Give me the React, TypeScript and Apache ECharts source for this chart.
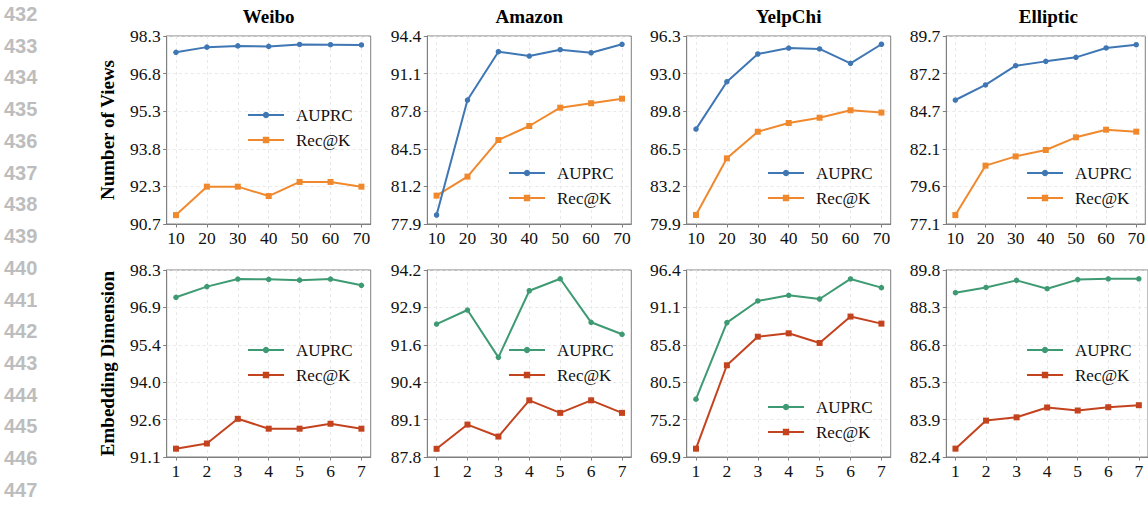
import React, { useEffect, useRef } from "react";
import * as echarts from "echarts";

// ---------- data ----------
const viewsCategories = [10, 20, 30, 40, 50, 60, 70];
const dimCategories = [1, 2, 3, 4, 5, 6, 7];

const datasetNames = ["Weibo", "Amazon", "YelpChi", "Elliptic"];

const weiboViewsAUPRC = [97.64, 97.85, 97.9, 97.88, 97.96, 97.95, 97.94];
const weiboViewsRec = [91.06, 92.21, 92.21, 91.83, 92.4, 92.4, 92.21];
const amazonViewsAUPRC = [78.69, 88.78, 93.02, 92.64, 93.2, 92.93, 93.67];
const amazonViewsRec = [80.39, 82.06, 85.27, 86.5, 88.11, 88.5, 88.9];
const yelpViewsAUPRC = [88.18, 92.31, 94.73, 95.25, 95.17, 93.92, 95.58];
const yelpViewsRec = [80.69, 85.63, 87.95, 88.71, 89.17, 89.82, 89.62];
const ellipticViewsAUPRC = [85.41, 86.42, 87.71, 88.0, 88.27, 88.9, 89.12];
const ellipticViewsRec = [77.7, 81.01, 81.63, 82.06, 82.91, 83.42, 83.29];

const weiboDimAUPRC = [97.25, 97.66, 97.95, 97.94, 97.91, 97.95, 97.71];
const weiboDimRec = [91.42, 91.62, 92.57, 92.19, 92.19, 92.38, 92.19];
const amazonDimAUPRC = [92.35, 92.83, 91.21, 93.49, 93.9, 92.41, 92.0];
const amazonDimRec = [88.08, 88.91, 88.5, 89.74, 89.31, 89.74, 89.31];
const yelpDimAUPRC = [78.1, 88.94, 92.01, 92.81, 92.29, 95.13, 93.9];
const yelpDimRec = [71.08, 82.9, 86.95, 87.43, 86.06, 89.8, 88.8];
const ellipticDimAUPRC = [88.9, 89.11, 89.39, 89.06, 89.42, 89.45, 89.45];
const ellipticDimRec = [82.73, 83.84, 83.97, 84.36, 84.24, 84.37, 84.45];

const weiboViewsTicks = ["90.7", "92.3", "93.8", "95.3", "96.8", "98.3"];
const amazonViewsTicks = ["77.9", "81.2", "84.5", "87.8", "91.1", "94.4"];
const yelpViewsTicks = ["79.9", "83.2", "86.5", "89.8", "93.0", "96.3"];
const ellipticViewsTicks = ["77.1", "79.6", "82.1", "84.7", "87.2", "89.7"];
const weiboDimTicks = ["91.1", "92.6", "94.0", "95.4", "96.9", "98.3"];
const amazonDimTicks = ["87.8", "89.1", "90.4", "91.6", "92.9", "94.2"];
const yelpDimTicks = ["69.9", "75.2", "80.5", "85.8", "91.1", "96.4"];
const ellipticDimTicks = ["82.4", "83.9", "85.3", "86.8", "88.3", "89.8"];

const rowLabels = ["Number of Views", "Embedding Dimension"];
const lineNumbers = [432, 433, 434, 435, 436, 437, 438, 439, 440, 441, 442, 443, 444, 445, 446, 447];

// ---------- style / layout ----------
const SERIF = "'Liberation Serif', 'Times New Roman', serif";
const AXIS_GRAY = "#7f7f7f";
const GRID_GRAY = "#e3e3e3";
const colorsTop = ["#3F76B4", "#F0892E"];
const colorsBottom = ["#3E9A72", "#C4431F"];

const panelLefts = [166.7, 427.3, 686.7, 946.3];
const panelWidth = 204;
const rowTops = [36, 270];
const rowHeights = [188, 187];

// legend anchor (left of icon, centre of first row) per panel
const legendPos = [
  [[247, 115], [508, 173], [767, 173], [1026, 173]],
  [[247, 350], [508, 350], [767, 407], [1026, 350]],
];

const panels = [
  { row: 0, col: 0, a: weiboViewsAUPRC, r: weiboViewsRec, ticks: weiboViewsTicks },
  { row: 0, col: 1, a: amazonViewsAUPRC, r: amazonViewsRec, ticks: amazonViewsTicks },
  { row: 0, col: 2, a: yelpViewsAUPRC, r: yelpViewsRec, ticks: yelpViewsTicks },
  { row: 0, col: 3, a: ellipticViewsAUPRC, r: ellipticViewsRec, ticks: ellipticViewsTicks },
  { row: 1, col: 0, a: weiboDimAUPRC, r: weiboDimRec, ticks: weiboDimTicks },
  { row: 1, col: 1, a: amazonDimAUPRC, r: amazonDimRec, ticks: amazonDimTicks },
  { row: 1, col: 2, a: yelpDimAUPRC, r: yelpDimRec, ticks: yelpDimTicks },
  { row: 1, col: 3, a: ellipticDimAUPRC, r: ellipticDimRec, ticks: ellipticDimTicks },
];

function buildOption() {
  const grid: any[] = [];
  const xAxis: any[] = [];
  const yAxis: any[] = [];
  const series: any[] = [];
  const legend: any[] = [];
  const title: any[] = [];

  panels.forEach((p, i) => {
    const cats = p.row === 0 ? viewsCategories : dimCategories;
    const span = cats[cats.length - 1] - cats[0];
    const xmin = cats[0] - span * 0.05;
    const xmax = cats[cats.length - 1] + span * 0.05;
    const ymin = parseFloat(p.ticks[0]);
    const ymax = parseFloat(p.ticks[p.ticks.length - 1]);
    const n = p.ticks.length - 1;
    const yPositions = p.ticks.map((_, k) => ymin + ((ymax - ymin) * k) / n);
    const colors = p.row === 0 ? colorsTop : colorsBottom;
    const suffix = p.row === 0 ? "" : " ";
    const nameA = "AUPRC" + suffix;
    const nameR = "Rec@K" + suffix;

    grid.push({
      left: panelLefts[p.col],
      top: rowTops[p.row],
      width: panelWidth,
      height: rowHeights[p.row],
      show: true,
      borderColor: AXIS_GRAY,
      borderWidth: 1,
      backgroundColor: "transparent",
    });

    xAxis.push({
      type: "value",
      gridIndex: i,
      min: xmin,
      max: xmax,
      axisLine: { show: true, onZero: false, lineStyle: { color: AXIS_GRAY, width: 1 } },
      axisTick: { show: true, length: 3.5, customValues: cats, lineStyle: { color: AXIS_GRAY } },
      axisLabel: {
        customValues: cats,
        margin: 5,
        color: "#111",
        fontFamily: SERIF,
        fontSize: 17.5,
        formatter: (v: number) => String(Math.round(v)),
      },
      splitLine: { show: true, lineStyle: { color: GRID_GRAY, type: [3, 3], width: 0.8 } },
    });

    yAxis.push({
      type: "value",
      gridIndex: i,
      min: ymin,
      max: ymax,
      axisLine: { show: true, onZero: false, lineStyle: { color: AXIS_GRAY, width: 1 } },
      axisTick: { show: true, length: 3.5, customValues: yPositions, lineStyle: { color: AXIS_GRAY } },
      axisLabel: {
        customValues: yPositions,
        margin: 6,
        color: "#111",
        fontFamily: SERIF,
        fontSize: 17.5,
        formatter: (v: number) => {
          const k = Math.round(((v - ymin) / (ymax - ymin)) * n);
          return p.ticks[k];
        },
      },
      splitLine: { show: true, lineStyle: { color: GRID_GRAY, type: [3, 3], width: 0.8 } },
    });

    series.push({
      type: "line",
      name: nameR,
      xAxisIndex: i,
      yAxisIndex: i,
      data: cats.map((c, k) => [c, p.r[k]]),
      symbol: "rect",
      symbolSize: 6,
      itemStyle: { color: colors[1] },
      lineStyle: { color: colors[1], width: 2 },
      z: 2,
    });
    series.push({
      type: "line",
      name: nameA,
      xAxisIndex: i,
      yAxisIndex: i,
      data: cats.map((c, k) => [c, p.a[k]]),
      symbol: "circle",
      symbolSize: 5.5,
      itemStyle: { color: colors[0] },
      lineStyle: { color: colors[0], width: 2 },
      z: 3,
    });

    const [lx, ly] = legendPos[p.row][p.col];
    legend.push({
      orient: "vertical",
      left: lx,
      top: ly - 8.5,
      padding: 0,
      itemWidth: 36,
      itemHeight: 8,
      itemGap: 8,
      selectedMode: false,
      data: [nameA, nameR],
      formatter: (name: string) => name.trim(),
      textStyle: {
        fontFamily: SERIF,
        fontSize: 17,
        lineHeight: 17,
        color: "#111",
        padding: [0, 0, 0, 7],
      },
    });

    if (p.row === 0) {
      title.push({
        text: datasetNames[p.col],
        left: panelLefts[p.col] + panelWidth / 2,
        top: 7,
        padding: 0,
        textAlign: "center",
        textStyle: { fontFamily: SERIF, fontSize: 19, fontWeight: "bold", color: "#000" },
      });
    }
  });

  const graphic: any[] = [];
  rowLabels.forEach((label, r) => {
    graphic.push({
      type: "text",
      x: 107,
      y: rowTops[r] + rowHeights[r] / 2,
      rotation: Math.PI / 2,
      style: {
        text: label,
        fontFamily: SERIF,
        fontSize: 19,
        fontWeight: "bold",
        fill: "#000",
        align: "center",
        verticalAlign: "middle",
      },
    });
  });
  lineNumbers.forEach((num, k) => {
    graphic.push({
      type: "text",
      x: 4,
      y: 14 + k * 31.73,
      style: {
        text: String(num),
        fontFamily: "'Liberation Sans', Arial, sans-serif",
        fontSize: 20,
        fontWeight: "bold",
        fill: "#bdbdbd",
        align: "left",
        verticalAlign: "middle",
      },
    });
  });

  return {
    animation: false,
    backgroundColor: "#ffffff",
    title,
    grid,
    xAxis,
    yAxis,
    legend,
    series,
    graphic,
  };
}

export default function App() {
  const ref = useRef<HTMLDivElement>(null);
  useEffect(() => {
    document.body.style.margin = "0";
    if (!ref.current) return;
    const chart = echarts.init(ref.current, undefined, { renderer: "svg" });
    chart.setOption(buildOption() as any);
    return () => chart.dispose();
  }, []);
  return <div ref={ref} style={{ width: 1148, height: 506 }} />;
}
